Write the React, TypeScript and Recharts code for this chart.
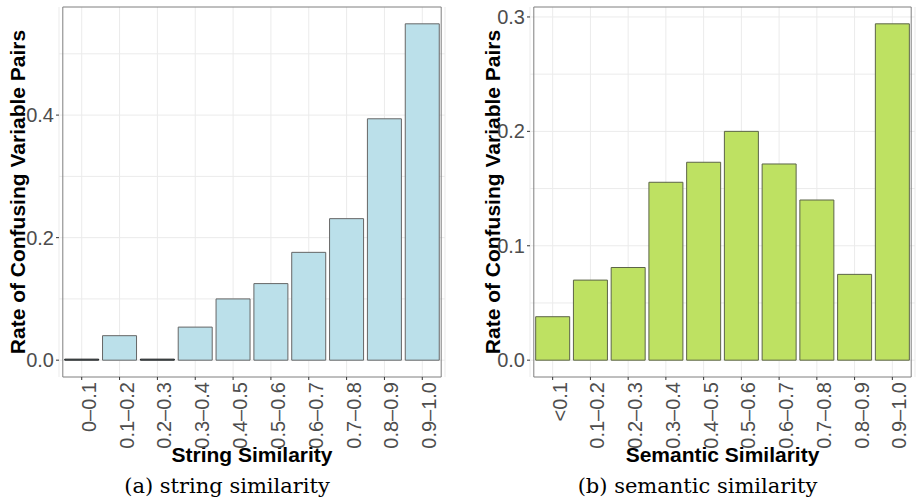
import { BarChart, Bar, Cell, XAxis, YAxis, CartesianGrid, ReferenceArea, Label } from 'recharts';

const stringBins = ['0–0.1', '0.1–0.2', '0.2–0.3', '0.3–0.4', '0.4–0.5', '0.5–0.6', '0.6–0.7', '0.7–0.8', '0.8–0.9', '0.9–1.0'];
const stringRates = [0, 0.04, 0, 0.054, 0.1, 0.125, 0.176, 0.231, 0.394, 0.549];
const stringTicks = [0, 0.2, 0.4];
const stringGrid = [0, 0.1, 0.2, 0.3, 0.4, 0.5];

const semanticBins = ['<0.1', '0.1–0.2', '0.2–0.3', '0.3–0.4', '0.4–0.5', '0.5–0.6', '0.6–0.7', '0.7–0.8', '0.8–0.9', '0.9–1.0'];
const semanticRates = [0.038, 0.07, 0.081, 0.1555, 0.173, 0.2, 0.1715, 0.14, 0.075, 0.294];
const semanticTicks = [0, 0.1, 0.2, 0.3];
const semanticGrid = [0, 0.05, 0.1, 0.15, 0.2, 0.25, 0.3];

const FONT = '"Liberation Sans", Arial, Helvetica, sans-serif';
const SERIF = '"DejaVu Serif", serif';

function XTick({ x, y, payload }: any) {
    return (
        <g transform={`translate(${x},${y})`}>
            <text transform="rotate(-90)" x={0} y={14} textAnchor="end" fontSize={20} fill="#4d4d4d" fontFamily={FONT}>
                {payload.value}
            </text>
        </g>
    );
}

interface PanelProps {
    bins: string[];
    rates: number[];
    fill: string;
    stroke: string;
    yTicks: number[];
    gridValues: number[];
    xTitle: string;
    caption: string;
    captionX: number;
    yAxisWidth: number;
    marginRight: number;
    titleX: number;
}

function Panel({ bins, rates, fill, stroke, yTicks, gridValues, xTitle, caption, captionX, yAxisWidth, marginRight, titleX }: PanelProps) {
    const data = bins.map((bin, i) => ({ bin, rate: rates[i] }));
    const yMax = Math.max(...rates);
    const domain = [-yMax * 0.05, yMax * 1.05];

    // major + minor horizontal grid lines, placed from the plot offset
    const gridRows = ({ yAxis, offset }: any) =>
        gridValues.map(v =>
            typeof yAxis?.scale === 'function'
                ? yAxis.scale(v)
                : offset.top + (offset.height * (domain[1] - v)) / (domain[1] - domain[0])
        );

    return (
        <BarChart width={458} height={502} data={data} margin={{ top: 7, right: marginRight, bottom: 0, left: 0 }} barCategoryGap="5%">
            <CartesianGrid stroke="#ebebeb" horizontalCoordinatesGenerator={gridRows} />
            <XAxis
                dataKey="bin"
                height={125}
                interval={0}
                tick={<XTick />}
                tickSize={3}
                tickMargin={2}
                tickLine={{ stroke: '#333' }}
                axisLine={false}
                padding={{ left: 3.8, right: 3.8 }}
            >
                <Label
                    content={({ viewBox }: any) => (
                        <g>
                            <text x={viewBox.x + viewBox.width / 2} y={461.5} textAnchor="middle" fontSize={21} fontWeight="bold" fill="#000" fontFamily={FONT}>
                                {xTitle}
                            </text>
                            <text x={captionX} y={493} textAnchor="middle" fontSize={21} fill="#000" fontFamily={SERIF}>
                                {caption}
                            </text>
                        </g>
                    )}
                />
            </XAxis>
            <YAxis
                width={yAxisWidth}
                domain={domain}
                ticks={yTicks}
                tickFormatter={(v: number) => v.toFixed(1)}
                tick={{ fontSize: 20, fill: '#4d4d4d', fontFamily: FONT }}
                tickSize={3}
                tickMargin={2}
                tickLine={{ stroke: '#333' }}
                axisLine={false}
            >
                <Label
                    content={({ viewBox }: any) => (
                        <text
                            transform={`translate(${titleX},${viewBox.y + viewBox.height / 2}) rotate(-90)`}
                            textAnchor="middle"
                            fontSize={21}
                            fontWeight="bold"
                            fill="#000"
                            fontFamily={FONT}
                        >
                            Rate of Confusing Variable Pairs
                        </text>
                    )}
                />
            </YAxis>
            <Bar
                dataKey="rate"
                fill={fill}
                stroke={stroke}
                strokeWidth={1}
                minPointSize={(v: number) => (v === 0 ? 1 : 0)}
                isAnimationActive={false}
            >
                {rates.map((r, i) => (
                    <Cell key={i} stroke={r === 0 ? '#111' : stroke} />
                ))}
            </Bar>
            <ReferenceArea y1={domain[0]} y2={domain[1]} fill="none" stroke="#7f7f7f" strokeWidth={1} ifOverflow="visible" />
        </BarChart>
    );
}

export default function App() {
    return (
        <div style={{ position: 'absolute', left: 0, top: 0, width: 916, height: 502, display: 'flex', background: '#fff' }}>
            <Panel
                bins={stringBins}
                rates={stringRates}
                fill="#bbe0ea"
                stroke="#666"
                yTicks={stringTicks}
                gridValues={stringGrid}
                xTitle="String Similarity"
                caption="(a) string similarity"
                captionX={227}
                yAxisWidth={59}
                marginRight={13}
                titleX={25}
            />
            <Panel
                bins={semanticBins}
                rates={semanticRates}
                fill="#bee162"
                stroke="#5c6448"
                yTicks={semanticTicks}
                gridValues={semanticGrid}
                xTitle="Semantic Similarity"
                caption="(b) semantic similarity"
                captionX={239.5}
                yAxisWidth={72}
                marginRight={1}
                titleX={41.5}
            />
        </div>
    );
}
